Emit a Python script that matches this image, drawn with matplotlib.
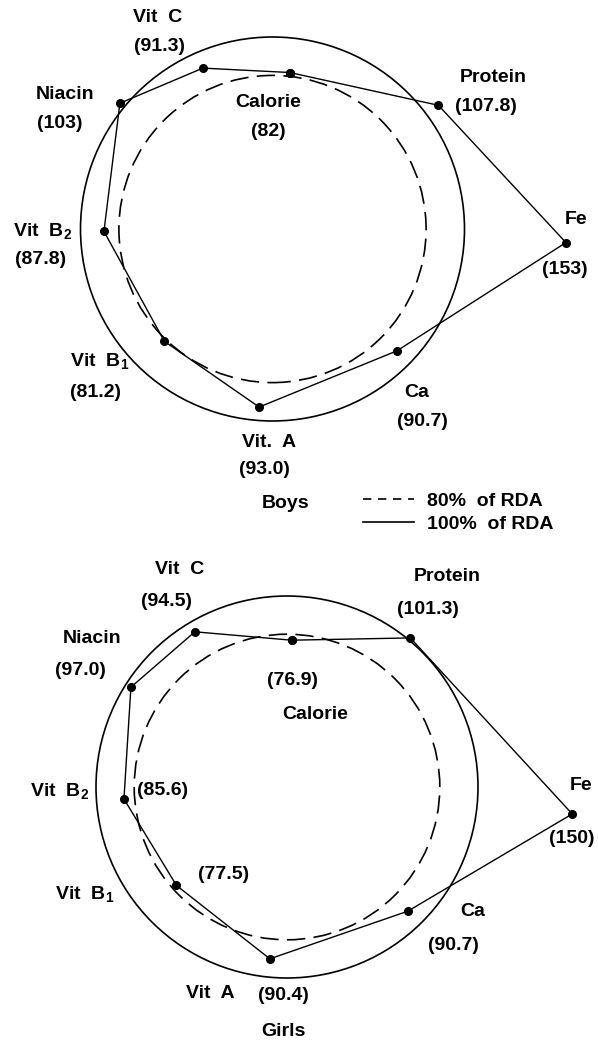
import numpy as np
import matplotlib
matplotlib.use("Agg")
import matplotlib.pyplot as plt
from matplotlib.patches import Circle
from matplotlib.lines import Line2D

plt.rcParams["font.family"] = ["Liberation Sans", "DejaVu Sans"]
plt.rcParams["font.weight"] = "bold"
plt.rcParams["mathtext.fontset"] = "custom"
plt.rcParams["mathtext.rm"] = "Liberation Sans:bold"
plt.rcParams["mathtext.it"] = "Liberation Sans:bold"
plt.rcParams["mathtext.bf"] = "Liberation Sans:bold"

# nutrients, going clockwise from the top
nutrients = ["Calorie", "Protein", "Fe", "Ca", "Vit A", "Vit B1", "Vit B2", "Niacin", "Vit C"]
# intake as % of RDA, as printed on the chart
boys_pct = ["82", "107.8", "153", "90.7", "93.0", "81.2", "87.8", "103", "91.3"]
girls_pct = ["76.9", "101.3", "150", "90.7", "90.4", "77.5", "85.6", "97.0", "94.5"]
rda_rings = [80, 100]

# spoke angles (deg) of each nutrient in the two drawings
boys_ang = [83.7, 36.7, -2.65, -44.4, -94.3, -133.9, -179.2, 140.5, 113.4]
girls_ang = [88.2, 50.4, -5.4, -45.8, -95.7, -138.3, -175.8, 147.4, 120.7]

boys_names = ["Calorie", "Protein", "Fe", "Ca", "Vit.  A", r"Vit  B$_1$", r"Vit  B$_2$", "Niacin", "Vit  C"]
girls_names = ["Calorie", "Protein", "Fe", "Ca", "Vit  A", r"Vit  B$_1$", r"Vit  B$_2$", "Niacin", "Vit  C"]

# label positions in chart units (% of RDA)
boys_name_xy = [(-2, 66), (115, 79), (158, 5), (75, -85), (-2, -111), (-90, -69), (-120, -1), (-108, 70), (-60, 110)]
boys_val_xy = [(-2, 51), (111, 64), (152, -21), (78, -100), (-4, -125), (-92, -85), (-121, -16), (-111, 55), (-59, 95)]
girls_name_xy = [(15, 38), (84, 110), (154, 1), (97, -65), (-40, -108), (-106, -56), (-119, -2), (-102, 78), (-56, 114)]
girls_val_xy = [(3, 56), (74, 93), (149, -27), (87, -83), (-2, -109), (-33, -46), (-65, -2), (-108, 61), (-63, 97)]

FS = 14


def draw_chart(ax, pct, ang, names, name_xy, val_xy):
    for r in rda_rings:
        ls = "-" if r == 100 else (0, (11, 5))
        ax.add_patch(Circle((0, 0), r, fill=False, ec="k", lw=1.2, ls=ls))
    v = np.array([float(p) for p in pct])
    th = np.deg2rad(ang)
    x = v * np.cos(th)
    y = v * np.sin(th)
    ax.plot(np.append(x, x[0]), np.append(y, y[0]), "k-", lw=1.0,
            marker="o", ms=5.5)
    for s, (tx, ty) in zip(names, name_xy):
        ax.text(tx, ty, s, ha="center", va="center", fontsize=FS)
    for s, (tx, ty) in zip(pct, val_xy):
        ax.text(tx, ty, "(" + s + ")", ha="center", va="center", fontsize=FS)
    ax.axis("off")


fig = plt.figure(figsize=(5.98, 10.45), dpi=100)

# top chart: centre at (272.5, 229) px, 1.92 px per %
ax1 = fig.add_axes([0, 1 - 480 / 1045, 1, 480 / 1045])
draw_chart(ax1, boys_pct, boys_ang, boys_names, boys_name_xy, boys_val_xy)
ax1.set_xlim(-272.5 / 1.92, (598 - 272.5) / 1.92)
ax1.set_ylim(-(480 - 229) / 1.92, 229 / 1.92)

# bottom chart: centre at (287, 787) px, 1.91 px per %
ax2 = fig.add_axes([0, 0, 1, 565 / 1045])
draw_chart(ax2, girls_pct, girls_ang, girls_names, girls_name_xy, girls_val_xy)
ax2.set_xlim(-287 / 1.91, (598 - 287) / 1.91)
ax2.set_ylim(-(1045 - 787) / 1.91, (787 - 480) / 1.91)

fig.text(286 / 598, 1 - 503 / 1045, "Boys", ha="center", va="center", fontsize=FS)
fig.text(283 / 598, 1 - 1032 / 1045, "Girls", ha="center", va="center", fontsize=FS)

handles = [Line2D([], [], color="k", lw=1.2, ls=(0, (5, 4))),
           Line2D([], [], color="k", lw=1.2)]
fig.legend(handles, ["80%  of RDA", "100%  of RDA"], loc="upper left",
           bbox_to_anchor=(363 / 598, 1 - 492 / 1045), frameon=False,
           fontsize=FS, handlelength=2.6, handletextpad=0.7,
           labelspacing=0.3, borderpad=0, borderaxespad=0)

fig.savefig("out.png", dpi=100)
